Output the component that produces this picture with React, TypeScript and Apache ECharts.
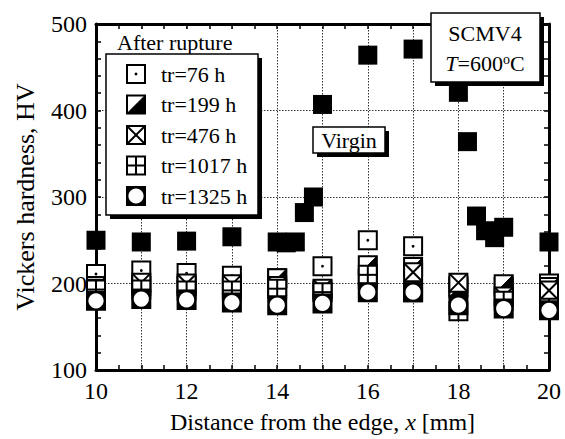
import React, { useEffect, useRef } from 'react';
import * as echarts from 'echarts';

// ---- data ----
const distances = [10, 11, 12, 13, 14, 15, 16, 17, 18, 19, 20];
const hv76 = [211, 215, 212, 209, 206, 220, 250, 243, 197, 196, 200];
const hv199 = [197, 197, 197, 195, 206, 192, 221, 219, 195, 199, 196];
const hv476 = [194, 201, 200, 199, 197, 194, 205, 213, 201, 185, 192];
const hv1017 = [193, 193, 192, 192, 194, 190, 210, 190, 168, 180, 172];
const hv1325 = [180, 182, 181, 178, 175, 177, 190, 190, 175, 171, 169];
const virginX = [10, 11, 12, 13, 14, 14.2, 14.4, 14.6, 14.8, 15, 16, 17, 18, 18.2, 18.4, 18.6, 18.8, 19, 20];
const virginHV = [250, 248, 249, 254, 248, 247, 248, 282, 300, 407, 464, 471, 421, 364, 278, 261, 253, 265, 248];

const seriesKinds = ['76', '199', '476', '1017', '1325'];
const seriesValues = [hv76, hv199, hv476, hv1017, hv1325];
const legendLabels = ['tr=76 h', 'tr=199 h', 'tr=476 h', 'tr=1017 h', 'tr=1325 h'];

const xTicks = { min: 10, max: 20, interval: 1 };
const yTicks = { min: 100, max: 500, interval: 100 };

const SERIF = '"Liberation Serif", "Times New Roman", serif';

function markerShapes(kind: string, cx: number, cy: number, s: number, z?: number) {
  const h = s / 2;
  const lw = 2;
  const zz = z === undefined ? {} : { z };
  const ch: any[] = [
    {
      type: 'rect',
      ...zz,
      shape: { x: cx - h, y: cy - h, width: s, height: s },
      style: { fill: kind === '1325' ? '#000' : '#fff', stroke: '#000', lineWidth: lw },
    },
  ];
  if (kind === '76') {
    ch.push({ type: 'circle', ...zz, shape: { cx, cy, r: 1.4 }, style: { fill: '#000' } });
  } else if (kind === '199') {
    ch.push({
      type: 'polygon',
      ...zz,
      shape: { points: [[cx + h, cy - h], [cx + h, cy + h], [cx - h, cy + h]] },
      style: { fill: '#000', stroke: '#000', lineWidth: 1 },
    });
  } else if (kind === '476') {
    ch.push({ type: 'line', ...zz, shape: { x1: cx - h, y1: cy - h, x2: cx + h, y2: cy + h }, style: { stroke: '#000', lineWidth: lw } });
    ch.push({ type: 'line', ...zz, shape: { x1: cx - h, y1: cy + h, x2: cx + h, y2: cy - h }, style: { stroke: '#000', lineWidth: lw } });
  } else if (kind === '1017') {
    ch.push({ type: 'line', ...zz, shape: { x1: cx - h, y1: cy, x2: cx + h, y2: cy }, style: { stroke: '#000', lineWidth: lw } });
    ch.push({ type: 'line', ...zz, shape: { x1: cx, y1: cy - h, x2: cx, y2: cy + h }, style: { stroke: '#000', lineWidth: lw } });
  } else if (kind === '1325') {
    ch.push({ type: 'circle', ...zz, shape: { cx, cy, r: 7.6 }, style: { fill: '#fff' } });
  }
  return ch;
}

export default function App() {
  const ref = useRef<HTMLDivElement>(null);

  useEffect(() => {
    if (!ref.current) return;
    const chart = echarts.init(ref.current, null, { renderer: 'svg' });

    const axisCommon = {
      type: 'value' as const,
      axisLine: { show: true, onZero: false, lineStyle: { color: '#000', width: 3 } },
      axisTick: { show: true, inside: true, length: 5, lineStyle: { color: '#000', width: 1.5 } },
      minorTick: { show: true, length: 5, lineStyle: { color: '#000', width: 1.5 } },
    };

    const customSeries = seriesKinds.map((kind, si) => ({
      type: 'custom' as const,
      name: legendLabels[si],
      coordinateSystem: 'cartesian2d',
      xAxisIndex: 0,
      yAxisIndex: 0,
      encode: { x: 0, y: 1 },
      clip: false,
      z: 3,
      data: distances.map((d, i) => [d, seriesValues[si][i]]),
      renderItem: (params: any, api: any) => {
        const p = api.coord([api.value(0), api.value(1)]);
        return { type: 'group', children: markerShapes(kind, p[0], p[1], 18) };
      },
    }));

    // legend (drawn as graphics)
    const legendY = [74, 104.5, 135, 165.5, 196];
    const legendEls: any[] = [
      { type: 'rect', z: 20, shape: { x: 103, y: 30, width: 160, height: 24 }, style: { fill: '#fff' } },
      {
        type: 'text', z: 21, x: 117, y: 42,
        style: { text: 'After rupture', fontSize: 22, fontFamily: SERIF, fill: '#000', align: 'left', verticalAlign: 'middle' },
      },
      { type: 'rect', z: 20, shape: { x: 110, y: 58, width: 152, height: 161 }, style: { fill: '#000' } },
      { type: 'rect', z: 21, shape: { x: 106, y: 54, width: 152, height: 161 }, style: { fill: '#fff', stroke: '#000', lineWidth: 1.5 } },
    ];
    seriesKinds.forEach((kind, i) => {
      legendEls.push(...markerShapes(kind, 136, legendY[i], 18, 22));
      legendEls.push({
        type: 'text', z: 22, x: 161, y: legendY[i],
        style: { text: legendLabels[i], fontSize: 22, fontFamily: SERIF, fill: '#000', align: 'left', verticalAlign: 'middle' },
      });
    });

    const annotEls: any[] = [
      // Virgin box
      { type: 'rect', z: 20, shape: { x: 317, y: 131, width: 72, height: 26 }, style: { fill: '#000' } },
      { type: 'rect', z: 21, shape: { x: 313, y: 127, width: 72, height: 26 }, style: { fill: '#fff', stroke: '#000', lineWidth: 1.5 } },
      {
        type: 'text', z: 22, x: 349, y: 140,
        style: { text: 'Virgin', fontSize: 22, fontFamily: SERIF, fill: '#000', align: 'center', verticalAlign: 'middle' },
      },
      // SCMV4 box
      { type: 'rect', z: 20, shape: { x: 435, y: 17, width: 109, height: 69 }, style: { fill: '#000' } },
      { type: 'rect', z: 21, shape: { x: 431, y: 13, width: 109, height: 69 }, style: { fill: '#fff', stroke: '#000', lineWidth: 1.5 } },
      {
        type: 'text', z: 22, x: 485, y: 33,
        style: { text: 'SCMV4', fontSize: 22, fontFamily: SERIF, fill: '#000', align: 'center', verticalAlign: 'middle' },
      },
      {
        type: 'text', z: 22, x: 485, y: 63,
        style: {
          text: '{i|T}=600{s|o}C',
          fontSize: 22, fontFamily: SERIF, fill: '#000', align: 'center', verticalAlign: 'middle',
          rich: {
            i: { fontSize: 22, fontFamily: SERIF, fontStyle: 'italic', fill: '#000' },
            s: { fontSize: 14, fontFamily: SERIF, fill: '#000', verticalAlign: 'top' },
          },
        },
      },
    ];

    const option: any = {
      animation: false,
      backgroundColor: '#fff',
      grid: { left: 96, right: 16, top: 24, bottom: 69, containLabel: false, outerBoundsMode: 'none' },
      xAxis: [
        {
          ...axisCommon,
          position: 'bottom',
          min: xTicks.min, max: xTicks.max, interval: xTicks.interval,
          minorTick: { ...axisCommon.minorTick, splitNumber: 2 },
          axisLabel: {
            show: true, margin: 9, color: '#000', fontSize: 24, fontFamily: SERIF,
            formatter: (v: number) => (v % 2 === 0 ? String(v) : ''),
          },
          splitLine: { show: true, lineStyle: { color: '#333', width: 1, type: [1.5, 1.5] } },
          name: 'Distance from the edge, {i|x} [mm]',
          nameLocation: 'middle',
          nameGap: 40,
          nameTextStyle: {
            fontSize: 24, fontFamily: SERIF, color: '#000',
            rich: { i: { fontSize: 24, fontFamily: SERIF, fontStyle: 'italic', color: '#000' } },
          },
        },
        {
          ...axisCommon,
          position: 'top',
          min: xTicks.min, max: xTicks.max, interval: xTicks.interval,
          minorTick: { ...axisCommon.minorTick, splitNumber: 2 },
          axisLabel: { show: false },
          splitLine: { show: false },
        },
      ],
      yAxis: [
        {
          ...axisCommon,
          position: 'left',
          min: yTicks.min, max: yTicks.max, interval: yTicks.interval,
          minorTick: { ...axisCommon.minorTick, splitNumber: 5 },
          axisLabel: { show: true, margin: 9, color: '#000', fontSize: 24, fontFamily: SERIF },
          splitLine: { show: true, lineStyle: { color: '#333', width: 1, type: [1.5, 1.5] } },
          name: 'Vickers hardness, HV',
          nameLocation: 'middle',
          nameRotate: 90,
          nameGap: 58,
          nameTextStyle: { fontSize: 26, fontFamily: SERIF, color: '#000' },
        },
        {
          ...axisCommon,
          position: 'right',
          min: yTicks.min, max: yTicks.max, interval: yTicks.interval,
          minorTick: { ...axisCommon.minorTick, splitNumber: 5 },
          axisLabel: { show: false },
          splitLine: { show: false },
        },
      ],
      series: [
        {
          type: 'scatter',
          name: 'Virgin',
          xAxisIndex: 0,
          yAxisIndex: 0,
          clip: false,
          z: 3,
          symbol: 'rect',
          symbolSize: 19,
          itemStyle: { color: '#000', opacity: 1 },
          data: virginX.map((x, i) => [x, virginHV[i]]),
        },
        ...customSeries,
      ],
      graphic: { elements: [...legendEls, ...annotEls] },
    };

    chart.setOption(option);
    return () => chart.dispose();
  }, []);

  return <div ref={ref} style={{ position: 'fixed', left: 0, top: 0, width: 565, height: 439 }} />;
}
